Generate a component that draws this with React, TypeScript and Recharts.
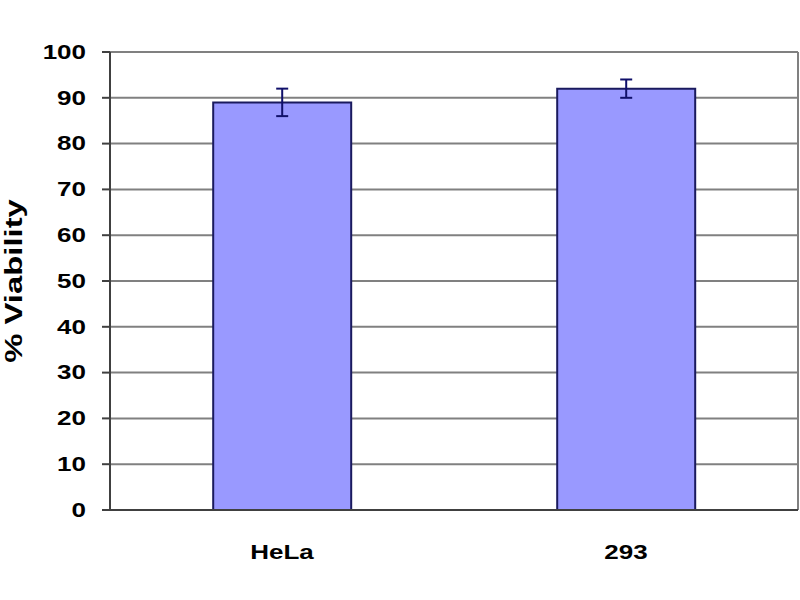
import { BarChart, Bar, XAxis, YAxis, CartesianGrid, ErrorBar, Label } from 'recharts'

const categories = ['HeLa', '293']
const viability = [89, 92]
const errors = [3, 2]
const yTicks = [0, 10, 20, 30, 40, 50, 60, 70, 80, 90, 100]

const data = categories.map((name, i) => ({ name, value: viability[i], err: errors[i], pos: i + 0.5 }))

const font = 'Liberation Sans, Arial, sans-serif'

// the reference text is stretched sideways, so scale the glyphs a bit
function YTick({ x, y, payload }: any) {
  return (
    <text
      transform={`translate(${x},${y}) scale(1.3,1)`}
      textAnchor="end"
      dominantBaseline="central"
      fontSize={20}
      fontWeight={700}
      fontFamily={font}
      fill="#000"
    >
      {payload.value}
    </text>
  )
}

function XTick({ x, y, payload }: any) {
  return (
    <text
      transform={`translate(${x},${y + 41}) scale(1.3,1)`}
      textAnchor="middle"
      fontSize={20}
      fontWeight={700}
      fontFamily={font}
      fill="#000"
    >
      {payload.value}
    </text>
  )
}

function YLabel({ viewBox }: any) {
  const cy = viewBox.y + viewBox.height / 2
  return (
    <text
      transform={`translate(22,${cy}) rotate(-90) scale(1.37,1)`}
      textAnchor="middle"
      fontSize={24}
      fontWeight={700}
      fontFamily={font}
      fill="#000"
    >
      % Viability
    </text>
  )
}

export default function App() {
  return (
    <div style={{ position: 'absolute', left: 0, top: 0, width: 800, height: 600, background: '#fff' }}>
      <BarChart
        width={800}
        height={600}
        data={data}
        barCategoryGap="30%"
        margin={{ top: 52, right: 2, left: 0, bottom: 0 }}
      >
        <CartesianGrid
          stroke="#808080"
          strokeWidth={2}
          verticalCoordinatesGenerator={({ offset }: any) => [offset.left + offset.width]}
        />
        <XAxis
          xAxisId="edge"
          type="number"
          dataKey="pos"
          domain={[0, 2]}
          ticks={[0, 1, 2]}
          tick={false}
          height={0}
          axisLine={false}
          tickSize={8}
          tickLine={{ stroke: '#404040', strokeWidth: 2 }}
        />
        <XAxis
          dataKey="name"
          height={90}
          axisLine={{ stroke: '#404040', strokeWidth: 2 }}
          tickLine={false}
          tick={<XTick />}
        />
        <YAxis
          domain={[0, 100]}
          ticks={yTicks}
          interval={0}
          width={110}
          axisLine={{ stroke: '#404040', strokeWidth: 2 }}
          tickSize={8}
          tickLine={{ stroke: '#404040', strokeWidth: 2 }}
          tick={<YTick />}
          tickMargin={16}
        >
          <Label content={<YLabel />} />
        </YAxis>
        <Bar dataKey="value" fill="#9999FF" stroke="#1a1a5e" strokeWidth={2} isAnimationActive={false}>
          <ErrorBar dataKey="err" width={6} stroke="#10106a" strokeWidth={2} />
        </Bar>
      </BarChart>
    </div>
  )
}
